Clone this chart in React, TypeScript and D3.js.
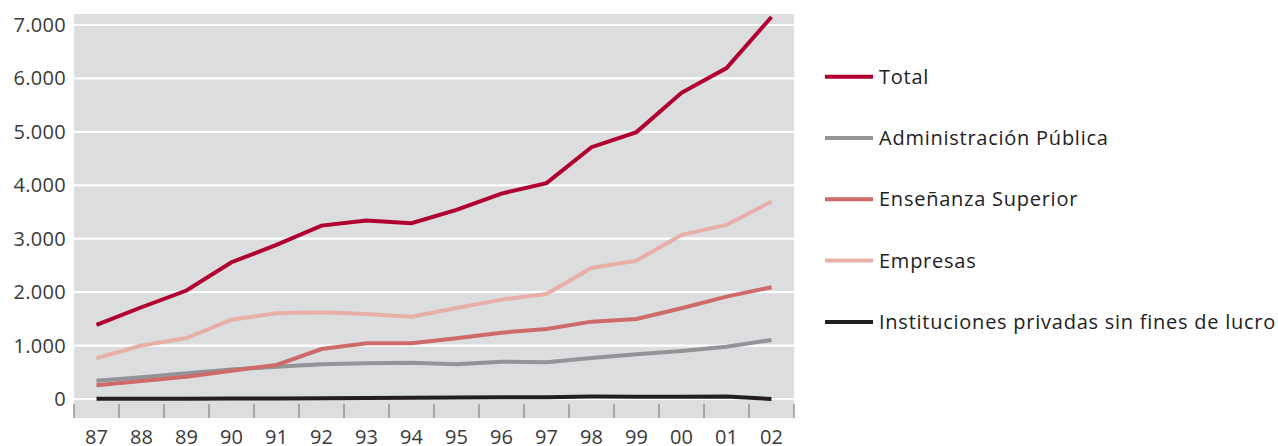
import * as d3 from "d3";

const YEARS = ["87", "88", "89", "90", "91", "92", "93", "94", "95", "96", "97", "98", "99", "00", "01", "02"];
const TOTAL = [1386, 1717, 2030, 2560, 2884, 3245, 3340, 3290, 3540, 3845, 4040, 4713, 4995, 5730, 6193, 7150];
const ADMIN = [343, 406, 481, 550, 605, 649, 668, 680, 652, 699, 690, 768, 837, 899, 979, 1105];
const ENSENANZA = [256, 337, 418, 530, 637, 936, 1043, 1043, 1136, 1242, 1311, 1448, 1498, 1698, 1916, 2092];
const EMPRESAS = [762, 1000, 1142, 1485, 1605, 1624, 1592, 1541, 1704, 1860, 1966, 2453, 2590, 3071, 3258, 3695];
const IPSFL = [5, 5, 5, 8, 10, 15, 20, 25, 30, 35, 35, 45, 40, 40, 45, 0];
const Y_TICKS = [0, 1000, 2000, 3000, 4000, 5000, 6000, 7000];

const SERIES = [
  { name: "Total", values: TOTAL, color: "#B1002F" },
  { name: "Administración Pública", values: ADMIN, color: "#939497" },
  { name: "Enseñanza Superior", values: ENSENANZA, color: "#CE6A69" },
  { name: "Empresas", values: EMPRESAS, color: "#E7AFA8" },
  { name: "Instituciones privadas sin fines de lucro", values: IPSFL, color: "#231F20" },
];
// drawing order (bottom to top)
const DRAW_ORDER = [4, 1, 2, 3, 0];

const W = 1278, H = 446;
const PL = 74, PR = 794, PT = 14, PB = 418;
const FONT = "'Open Sans', 'Noto Sans', sans-serif";

export default function App() {
  const x = d3.scaleBand<string>().domain(YEARS).range([PL, PR]).paddingInner(0).paddingOuter(0);
  const y = d3.scaleLinear().domain([0, 7000]).range([399, 25]);
  const cx = (d: string) => (x(d) ?? 0) + x.bandwidth() / 2;

  const line = d3.line<number>()
    .x((_, i) => cx(YEARS[i]))
    .y(v => y(v));

  const tickXs = [...YEARS.map(d => x(d) ?? 0), PR];

  return (
    <svg width={W} height={H} style={{ position: "absolute", left: 0, top: 0 }} fontFamily={FONT}>
      <rect x={PL} y={PT} width={PR - PL} height={PB - PT} fill="#DCDDDF" />
      {Y_TICKS.map(t => (
        <g key={t}>
          <line x1={PL} x2={PR} y1={y(t)} y2={y(t)} stroke="#FFFFFF" strokeWidth={2.2} />
          <text x={66} y={y(t) + 7} textAnchor="end" fontSize={20} fill="#3A3A3A" letterSpacing={0.3}>
            {d3.format(",")(t).replace(/,/g, ".")}
          </text>
        </g>
      ))}
      {tickXs.map((tx, i) => (
        <line key={i} x1={tx} x2={tx} y1={404} y2={PB} stroke="#6E6E6E" strokeWidth={1} />
      ))}
      {YEARS.map(d => (
        <text key={d} x={cx(d)} y={443.5} textAnchor="middle" fontSize={20} fill="#3A3A3A">{d}</text>
      ))}
      {DRAW_ORDER.map(i => (
        <path key={i} d={line(SERIES[i].values) ?? ""} fill="none" stroke={SERIES[i].color}
          strokeWidth={4} strokeLinejoin="miter" strokeLinecap="butt" />
      ))}
      {SERIES.map((s, i) => {
        const ly = 76.7 + i * 61.3;
        return (
          <g key={s.name}>
            <line x1={825} x2={873} y1={ly} y2={ly} stroke={s.color} strokeWidth={4} />
            <text x={879} y={ly + 7} fontSize={20} fill="#222222" letterSpacing={0.75}>{s.name}</text>
          </g>
        );
      })}
    </svg>
  );
}
